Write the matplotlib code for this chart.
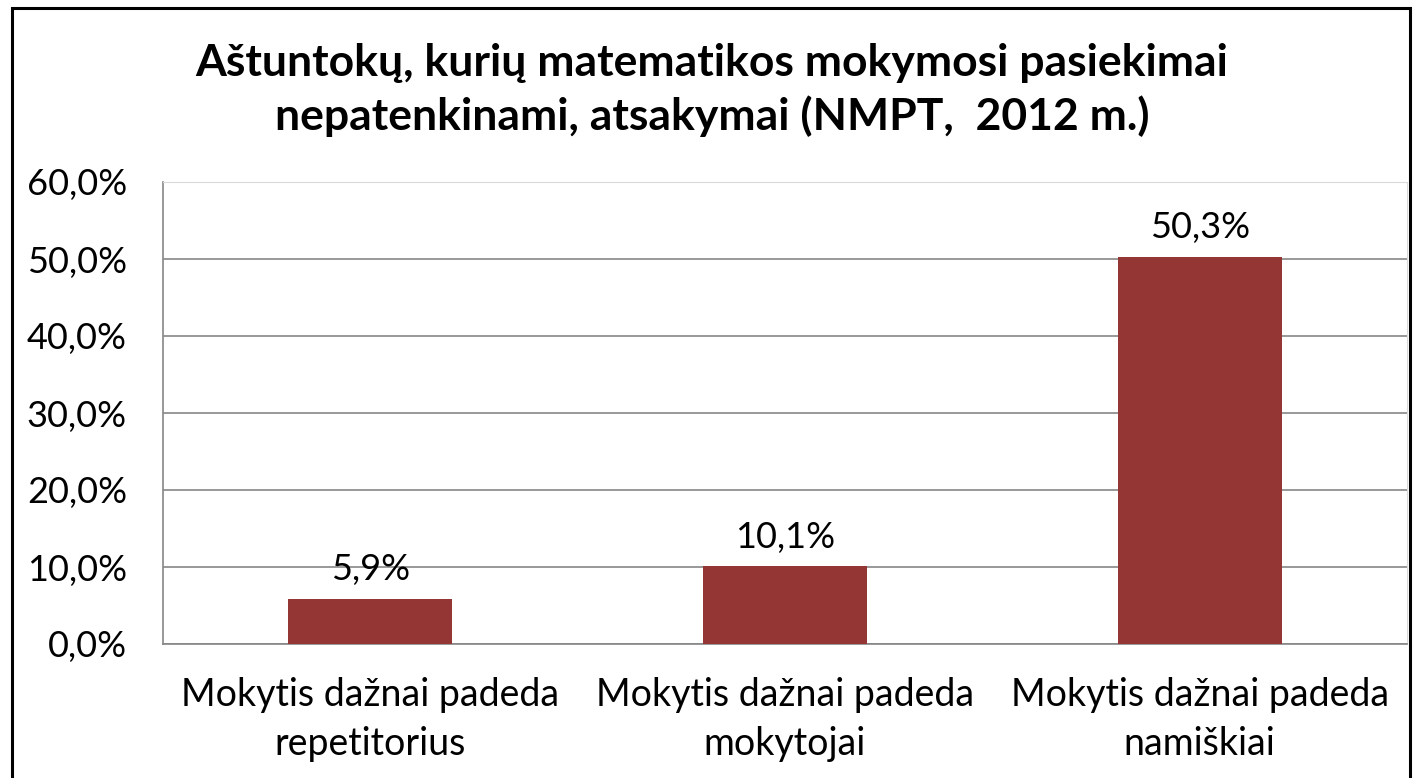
import numpy as np
import matplotlib
matplotlib.use('Agg')
import matplotlib.pyplot as plt
from matplotlib.patches import Rectangle

plt.rcParams['font.family'] = ['Lato', 'DejaVu Sans']

categories = ['Mokytis dažnai padeda\nrepetitorius',
              'Mokytis dažnai padeda\nmokytojai',
              'Mokytis dažnai padeda\nnamiškiai']
values = [5.9, 10.1, 50.3]
yticks = [0, 10, 20, 30, 40, 50, 60]
title = 'Aštuntokų, kurių matematikos mokymosi pasiekimai\nnepatenkinami, atsakymai (NMPT,  2012 m.)'

W, H = 1424, 778
fig = plt.figure(figsize=(W / 100, H / 100), dpi=100)
ax = fig.add_axes([163 / W, 1 - 644 / H, (1407 - 163) / W, (644 - 182) / H])

x_pos = np.arange(len(values))
ax.bar(x_pos, values, width=0.395, color='#943634', zorder=3)
for xp, v in zip(x_pos, values):
    ax.text(xp, v + 1.6, f'{v:.1f}%'.replace('.', ','), ha='center', va='bottom',
            fontsize=26, color='black')

ax.set_xlim(-0.5, 2.5)
ax.set_ylim(0, 60)
ax.set_yticks(yticks)
ax.set_yticklabels([f'{t:.1f}%'.replace('.', ',') for t in yticks], fontsize=26)
ax.set_xticks(x_pos)
ax.set_xticklabels(categories, fontsize=27, linespacing=1.42)
ax.tick_params(axis='y', length=0, pad=26)
ax.tick_params(axis='x', length=0, pad=24)
ax.grid(axis='y', color='#868686', linewidth=1.2, zorder=0)
for side in ['top', 'right']:
    ax.spines[side].set_color('#d9d9d9')
for side in ['left', 'bottom']:
    ax.spines[side].set_color('#868686')
    ax.spines[side].set_linewidth(1.2)

fig.text(0.5, 1 - 90 / H, title, ha='center', va='center', fontsize=32,
         fontweight='bold', linespacing=1.38)

fig.patches.append(Rectangle((12 / W, -0.02), (1410 - 12) / W, 1 - 8 / H + 0.02,
                             transform=fig.transFigure, fill=False,
                             edgecolor='black', linewidth=2.2))

fig.savefig('out.png', dpi=100)
